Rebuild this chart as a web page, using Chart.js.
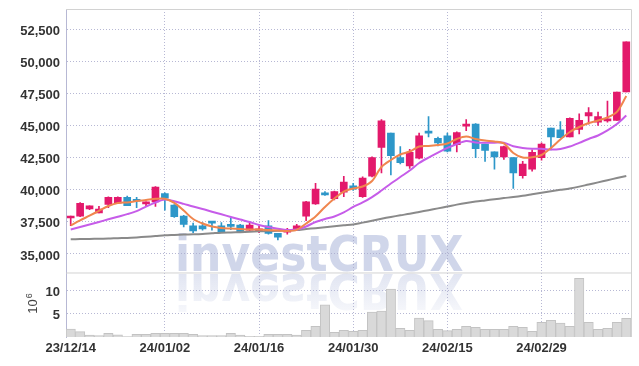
<!DOCTYPE html>
<html>
<head>
<meta charset="utf-8">
<script src="https://cdn.jsdelivr.net/npm/chart.js@4.4.0/dist/chart.umd.min.js"></script>
<style>
  html, body { margin: 0; padding: 0; background: #fff; }
</style>
</head>
<body>
<canvas id="stock" width="639" height="366"></canvas>
<script>
// trading days (yy/mm/dd)
const dates = [
  '23/12/14','23/12/15','23/12/18','23/12/19','23/12/20','23/12/21','23/12/22','23/12/26','23/12/27','23/12/28',
  '24/01/02','24/01/03','24/01/04','24/01/05','24/01/08','24/01/09','24/01/10','24/01/11','24/01/12','24/01/15',
  '24/01/16','24/01/17','24/01/18','24/01/19','24/01/22','24/01/23','24/01/24','24/01/25','24/01/26','24/01/29',
  '24/01/30','24/01/31','24/02/01','24/02/02','24/02/05','24/02/06','24/02/07','24/02/08','24/02/13','24/02/14',
  '24/02/15','24/02/16','24/02/19','24/02/20','24/02/21','24/02/22','24/02/23','24/02/26','24/02/27','24/02/28',
  '24/02/29','24/03/04','24/03/05','24/03/06','24/03/07','24/03/08','24/03/11','24/03/12','24/03/13','24/03/14'
];

const opens = [
  37800,37950,38500,38200,38850,38950,39400,39250,38900,39050,
  39700,38800,37950,37200,37200,37500,37200,37300,37250,36850,
  36800,37200,36600,36700,36950,37950,38900,39750,39300,39800,
  40300,39450,41050,43300,44400,42500,41850,42450,44550,44000,
  44200,43500,44950,45100,43550,42950,42550,42500,41100,41600,
  42500,44800,44650,44100,44700,45750,45250,45350,45400,47600
];
const highs = [
  37950,39000,38750,38700,39450,39450,39500,39400,39050,40250,
  39750,38850,38000,37400,37450,37550,37450,37800,37300,37400,
  37150,37600,36600,37000,37300,39100,40500,39850,39900,41050,
  40500,41000,42550,45450,44400,43350,43150,44400,45700,44100,
  44400,44500,45450,45150,43550,42950,43400,42500,42200,43100,
  43650,44800,45300,45600,45900,46400,46050,46900,47600,51500
];
const lows = [
  37200,37900,38450,38200,38600,38950,38750,38600,38700,38700,
  38400,37850,37100,36650,36850,36850,36700,36900,36650,36750,
  36650,36550,36100,36550,36850,37600,38850,39550,39200,39450,
  39950,39400,41000,41300,41150,42000,41650,42400,44100,43400,
  42950,42950,44600,42500,42200,41600,42350,40100,40900,41450,
  42300,43100,44050,44100,44350,45100,45000,45250,45400,47600
];
const closes = [
  37950,38950,38750,38500,39400,39400,38750,39100,39000,40200,
  39350,37900,37300,36800,36950,37400,36700,37150,36700,37250,
  36950,36600,36300,36850,37200,39050,40050,39600,39850,40600,
  40050,40900,42500,45350,42650,42100,42900,44200,44400,43650,
  43000,44450,45100,43200,43050,42550,43350,41300,42000,42900,
  43550,44100,44050,45550,45400,46000,45700,45500,47600,51500
];

// volume, millions of shares
const volumes = [
  1.7,1.15,0.4,0.3,0.8,0.45,0.1,0.6,0.6,0.8,
  0.8,0.8,0.8,0.6,0.3,0.3,0.3,0.8,0.4,0.15,
  0.15,0.6,0.6,0.6,0.4,1.45,2.3,7.0,1.0,1.45,
  1.25,1.45,5.4,5.65,10.4,1.9,1.45,4.1,3.55,1.65,
  1.4,1.65,2.3,2.1,1.65,1.65,1.65,2.3,2.1,1.25,
  3.2,3.6,3.0,2.3,12.75,3.2,1.65,1.9,3.2,4.05
];

// moving averages
const ma5 = [
  37220,37610,37980,38360,38730,38970,39010,39120,39200,39290,
  39300,38970,38380,37720,37370,37140,37020,36980,36940,36900,
  36900,36870,36830,36790,36880,37370,37920,38660,39320,39860,
  40100,40250,40680,41770,42310,42740,42970,43360,43400,43480,
  43600,43950,44140,43950,43830,43750,43600,42860,42510,42530,
  42700,43250,43910,44490,44880,45190,45390,45620,46050,47290
];
const ma20 = [
  36910,37100,37290,37490,37700,37900,38100,38340,38690,39010,
  39240,39100,38900,38690,38500,38290,38090,37880,37680,37490,
  37250,37100,36970,36870,36900,37140,37490,37720,37920,38230,
  38660,39010,39430,39940,40480,40990,41490,42080,42500,42890,
  43250,43560,43790,43680,43660,43660,43660,43380,43250,43190,
  43190,43120,43170,43360,43640,43950,44220,44610,45110,45780
];
const ma60 = [
  36140,36160,36170,36190,36200,36230,36250,36290,36340,36390,
  36450,36480,36510,36530,36560,36610,36660,36680,36700,36730,
  36760,36780,36800,36840,36860,36940,37010,37080,37160,37230,
  37290,37440,37590,37740,37880,38010,38130,38270,38410,38550,
  38690,38840,38970,39080,39170,39260,39350,39430,39530,39650,
  39770,39880,39990,40100,40240,40410,40570,40740,40910,41070
];

const priceTicks = [35000, 37500, 40000, 42500, 45000, 47500, 50000, 52500];
const volTicks = [5, 10];

const upColor = '#e3196b';
const downColor = '#2d97c9';
const gridColor = 'rgba(170,172,205,0.85)';
const frameColor = '#d2d2d2';
const tickFont = { family: '"Liberation Sans", Arial, sans-serif', size: 13, weight: 'bold' };

const candleColor = ctx => closes[ctx.dataIndex] >= opens[ctx.dataIndex] ? upColor : downColor;

// keep the label overhang from pushing the plot down
const noPad = s => { s.width = 66; s.paddingTop = 0; s.paddingBottom = 0; };

// logo with its mirror image, behind everything
const watermark = {
  id: 'watermark',
  beforeDraw(chart) {
    const ctx = chart.ctx;
    const base = chart.scales.y.bottom - 1;
    ctx.save();
    ctx.font = 'bold 49px "DejaVu Sans Condensed", "Liberation Sans", sans-serif';
    ctx.textBaseline = 'alphabetic';
    ctx.fillStyle = 'rgba(200,207,230,0.85)';
    ctx.fillText('investCRUX', 175, base);
    ctx.translate(0, 2 * base + 3);
    ctx.scale(1, -1);
    const g = ctx.createLinearGradient(0, base, 0, base - 40);
    g.addColorStop(0, 'rgba(215,220,237,0.75)');
    g.addColorStop(1, 'rgba(215,220,237,0.2)');
    ctx.fillStyle = g;
    ctx.fillText('investCRUX', 175, base);
    ctx.restore();
  }
};

// top / right frame and the line between the two panels
const frame = {
  id: 'frame',
  beforeDatasetsDraw(chart) {
    const {ctx, chartArea: a} = chart;
    const sep = chart.scales.y.bottom;
    ctx.save();
    ctx.strokeStyle = frameColor;
    ctx.lineWidth = 1;
    ctx.beginPath();
    ctx.moveTo(a.left, a.top + 0.5);
    ctx.lineTo(a.right + 0.5, a.top + 0.5);
    ctx.lineTo(a.right + 0.5, a.bottom);
    ctx.moveTo(a.left, sep + 0.5);
    ctx.lineTo(a.right, sep + 0.5);
    ctx.stroke();
    ctx.restore();
  },
  afterDraw(chart) {
    const ctx = chart.ctx;
    const yv = chart.scales.yv;
    const cy = (yv.top + yv.bottom) / 2;
    ctx.save();
    ctx.translate(37, cy + 9);
    ctx.rotate(-Math.PI / 2);
    ctx.fillStyle = '#444';
    ctx.textBaseline = 'alphabetic';
    ctx.font = '13px "Liberation Sans", sans-serif';
    ctx.fillText('10', 0, 0);
    const w = ctx.measureText('10').width;
    ctx.font = '9px "Liberation Sans", sans-serif';
    ctx.fillText('6', w + 1, -5);
    ctx.restore();
  }
};

new Chart(document.getElementById('stock'), {
  type: 'bar',
  data: {
    labels: dates,
    datasets: [
      { type: 'line', label: 'MA5', data: ma5, yAxisID: 'y', borderColor: '#f0864e', borderWidth: 2, pointRadius: 0, tension: 0.3, order: 0 },
      { type: 'line', label: 'MA20', data: ma20, yAxisID: 'y', borderColor: '#c65ce9', borderWidth: 2, pointRadius: 0, tension: 0.3, order: 0 },
      { type: 'line', label: 'MA60', data: ma60, yAxisID: 'y', borderColor: '#8a8a8a', borderWidth: 2, pointRadius: 0, tension: 0.3, order: 0 },
      { label: 'body', data: opens.map((o, i) => [o, closes[i]]), yAxisID: 'y', backgroundColor: candleColor,
        barThickness: 7, minBarLength: 2, grouped: false, order: 1 },
      { label: 'wick', data: lows.map((l, i) => [l, highs[i]]), yAxisID: 'y', backgroundColor: candleColor,
        barThickness: 1, grouped: false, order: 2 },
      { label: 'volume', data: volumes, yAxisID: 'yv', backgroundColor: '#d9d9d9', borderColor: '#c3c3c3', borderWidth: 1,
        barPercentage: 1, categoryPercentage: 1, grouped: false, order: 3 }
    ]
  },
  options: {
    responsive: false,
    animation: false,
    layout: { padding: { top: 9, right: 8, left: 0, bottom: 0 } },
    plugins: { legend: { display: false }, tooltip: { enabled: false } },
    scales: {
      x: {
        type: 'category',
        offset: true,
        afterFit: s => { s.height = 29; },
        grid: {
          offset: false,
          drawTicks: false,
          color: ctx => (ctx.tick && ctx.tick.value % 10 === 0 && ctx.tick.value > 0) ? gridColor : 'transparent'
        },
        border: { display: false, dash: [1, 2] },
        ticks: {
          autoSkip: false, maxRotation: 0, padding: 4, color: '#333', font: tickFont,
          callback: v => v % 10 === 0 ? dates[v] : null
        }
      },
      y: {
        position: 'left', stack: 'panels', stackWeight: 4.085, weight: 1,
        min: 33560, max: 54060,
        afterBuildTicks: s => { s.ticks = priceTicks.map(v => ({ value: v })); },
        afterFit: noPad,
        grid: { color: gridColor, drawTicks: false },
        border: { display: true, color: gridColor, dash: [1, 2] },
        ticks: { autoSkip: false, padding: 6, labelOffset: 2, color: '#333', font: tickFont, callback: v => v.toLocaleString('en-US') }
      },
      yv: {
        position: 'left', stack: 'panels', stackWeight: 1, weight: 0,
        min: 0, max: 14,
        afterBuildTicks: s => { s.ticks = volTicks.map(v => ({ value: v })); },
        afterFit: noPad,
        grid: { color: gridColor, drawTicks: false },
        border: { display: true, color: gridColor, dash: [1, 2] },
        ticks: { autoSkip: false, padding: 6, labelOffset: 1, color: '#333', font: tickFont }
      }
    }
  },
  plugins: [watermark, frame]
});
</script>
</body>
</html>
